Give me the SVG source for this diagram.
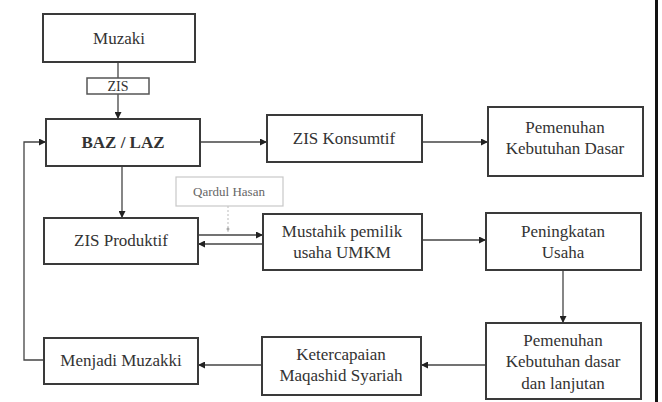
<svg xmlns="http://www.w3.org/2000/svg" width="662" height="402" viewBox="0 0 662 402">
<style>
.box{fill:#fff;stroke:#3a3a3a;stroke-width:2}
.lbl{fill:#fff;stroke:#555;stroke-width:1.5}
.qh{fill:#fff;stroke:#c8c8c8;stroke-width:1.2}
.t{font-family:'Liberation Serif','Times New Roman',serif;font-size:17px;fill:#333;text-anchor:middle}
.b{font-weight:bold}
.s{font-size:14px}
.g{fill:#666;font-size:13px}
.ln{fill:none;stroke:#444;stroke-width:1.3}
.ar{marker-end:url(#ah)}
</style>
<defs>
<marker id="ah" viewBox="0 0 10 10" refX="10" refY="5" markerWidth="7" markerHeight="7" markerUnits="userSpaceOnUse" orient="auto">
<path d="M0,0 L10,5 L0,10 z" fill="#222"/>
</marker>
</defs>
<rect x="655" y="0" width="3" height="402" fill="#111"/>
<g id="connectors">
<line class="ln ar" x1="118" y1="62" x2="118" y2="119"/>
<line class="ln ar" x1="200" y1="142" x2="267" y2="142"/>
<line class="ln ar" x1="422" y1="142" x2="488" y2="142"/>
<line class="ln ar" x1="122" y1="166" x2="122" y2="218"/>
<line x1="228" y1="206" x2="228" y2="232" stroke="#bbb" stroke-width="1" stroke-dasharray="2,2"/>
<circle cx="228" cy="229" r="1.5" fill="#aaa"/>
<line class="ln ar" x1="198" y1="235" x2="263" y2="235"/>
<line class="ln ar" x1="263" y1="244" x2="198" y2="244"/>
<line class="ln ar" x1="422" y1="240" x2="486" y2="240"/>
<line class="ln ar" x1="563" y1="270" x2="563" y2="323"/>
<line class="ln ar" x1="486" y1="365" x2="421" y2="365"/>
<line class="ln ar" x1="262" y1="365" x2="198" y2="365"/>
<polyline class="ln ar" points="44,360 24,360 24,142 46,142" stroke="#888"/>
</g>
<g id="muzaki">
<rect class="box" x="43" y="14" width="152" height="48"/>
<text class="t" x="119" y="44">Muzaki</text>
</g>
<g id="zis-label">
<rect class="lbl" x="87" y="78" width="62" height="16"/>
<text class="t s" x="118" y="91">ZIS</text>
</g>
<g id="baz-laz">
<rect class="box" x="46" y="119" width="154" height="47"/>
<text class="t b" x="123" y="148">BAZ / LAZ</text>
</g>
<g id="zis-konsumtif">
<rect class="box" x="267" y="115" width="155" height="47"/>
<text class="t" x="344" y="144">ZIS Konsumtif</text>
</g>
<g id="pemenuhan-dasar">
<rect class="box" x="488" y="107" width="155" height="69"/>
<text class="t" x="565" y="133">Pemenuhan</text>
<text class="t" x="565" y="154">Kebutuhan Dasar</text>
</g>
<g id="qardul-hasan">
<rect class="qh" x="176" y="177" width="107" height="29"/>
<text class="t g" x="229" y="196">Qardul Hasan</text>
</g>
<g id="zis-produktif">
<rect class="box" x="44" y="218" width="154" height="46"/>
<text class="t" x="121" y="246">ZIS Produktif</text>
</g>
<g id="mustahik">
<rect class="box" x="263" y="214" width="159" height="56"/>
<text class="t" x="342" y="237">Mustahik pemilik</text>
<text class="t" x="342" y="258">usaha UMKM</text>
</g>
<g id="peningkatan">
<rect class="box" x="486" y="213" width="155" height="57"/>
<text class="t" x="563" y="237">Peningkatan</text>
<text class="t" x="563" y="258">Usaha</text>
</g>
<g id="pemenuhan-lanjutan">
<rect class="box" x="486" y="323" width="155" height="76"/>
<text class="t" x="563" y="346">Pemenuhan</text>
<text class="t" x="563" y="367">Kebutuhan dasar</text>
<text class="t" x="563" y="389">dan lanjutan</text>
</g>
<g id="ketercapaian">
<rect class="box" x="262" y="337" width="159" height="58"/>
<text class="t" x="341" y="360">Ketercapaian</text>
<text class="t" x="341" y="381">Maqashid Syariah</text>
</g>
<g id="menjadi-muzakki">
<rect class="box" x="44" y="338" width="154" height="46"/>
<text class="t" x="121" y="366">Menjadi Muzakki</text>
</g>
</svg>
